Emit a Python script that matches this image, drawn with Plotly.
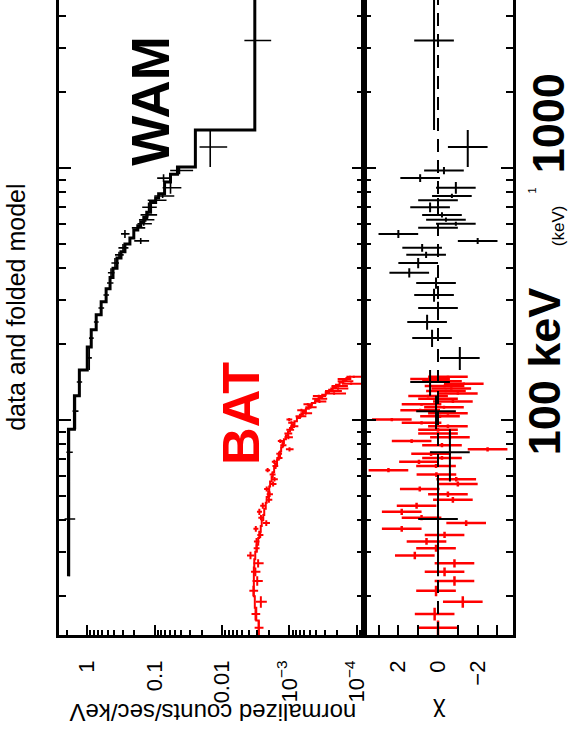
import plotly.graph_objects as go

W, H = 583, 734

# ---------------- WAM (black) ----------------
wam_e_lo = [24, 57, 92, 125, 158, 195, 228, 262, 295, 332, 368, 400, 440, 465, 500, 528, 568, 590, 612, 636,
            668, 730, 760, 790, 880, 945, 1010, 1415]
wam_e_hi = [57, 92, 125, 158, 195, 228, 262, 295, 332, 368, 400, 440, 465, 500, 528, 568, 590, 612, 636, 668,
            730, 760, 790, 880, 945, 1010, 1415, 5000]
wam_model = [1.90, 1.90, 1.55, 1.31, 1.00, 0.873, 0.737, 0.622, 0.525, 0.459, 0.415, 0.362, 0.316, 0.276,
             0.233, 0.204, 0.178, 0.161, 0.145, 0.131, 0.115, 0.0967, 0.0873, 0.0713, 0.0582, 0.0459,
             0.0249, 0.00327]
wam_data = [1.84, 1.84, 1.50, 1.31, 0.935, 0.873, 0.737, 0.622, 0.525, 0.459, 0.444, 0.388, 0.338, 0.295,
            0.161, 0.276, 0.178, 0.145, 0.136, 0.127, 0.123, 0.0967, 0.0762, 0.0582, 0.0738, 0.0429,
            0.0150, 0.00327]
wam_err = [0.33, 0.2, 0.15, 0.12, 0.08, 0.07, 0.06, 0.06, 0.05, 0.05, 0.05, 0.05, 0.05, 0.05, 0.04, 0.04,
           0.04, 0.035, 0.035, 0.035, 0.03, 0.03, 0.025, 0.018, 0.018, 0.016, 0.0066, 0.0014]
wam_chi = [0.0, -0.6, 0.1, 0.4, -1.1, 0.3, 0.55, 0.0, 0.2, 0.1, 1.45, 1.0, 0.6, 0.8, -2.0, 2.0, 0.0, -0.9,
           -0.4, -0.2, 0.4, 0.0, -0.7, -0.9, 0.9, -0.3, -1.5, 0.2]

# ---------------- BAT (red) ----------------
bat_e_lo = [14, 16, 18, 20, 22, 24, 26, 28, 30, 32, 34, 36, 38, 40, 42, 44.5, 47, 49.5, 52, 54.5, 57, 59.5,
            62, 64.5, 67, 69.5, 72, 75, 78, 81, 84, 87, 90, 93, 96, 99, 102, 105, 108, 111, 114, 117, 120,
            123, 126, 129, 132, 135, 138, 141, 144, 147]
bat_e_hi = [16, 18, 20, 22, 24, 26, 28, 30, 32, 34, 36, 38, 40, 42, 44.5, 47, 49.5, 52, 54.5, 57, 59.5, 62,
            64.5, 67, 69.5, 72, 75, 78, 81, 84, 87, 90, 93, 96, 99, 102, 105, 108, 111, 114, 117, 120, 123,
            126, 129, 132, 135, 138, 141, 144, 147, 150]
bat_model = [2.86e-3, 3.11e-3, 3.27e-3, 3.38e-3, 3.44e-3, 3.38e-3, 3.33e-3, 3.22e-3, 3.06e-3, 2.91e-3,
             2.81e-3, 2.67e-3, 2.58e-3, 2.45e-3, 2.37e-3, 2.25e-3, 2.18e-3, 2.07e-3, 2.00e-3, 1.94e-3,
             1.84e-3, 1.78e-3, 1.69e-3, 1.61e-3, 1.53e-3, 1.45e-3, 1.38e-3, 1.33e-3, 1.27e-3, 1.21e-3,
             1.13e-3, 1.05e-3, 9.84e-4, 9.19e-4, 8.44e-4, 7.76e-4, 7.01e-4, 6.33e-4, 5.72e-4, 5.17e-4,
             4.67e-4, 4.15e-4, 3.68e-4, 3.27e-4, 2.90e-4, 2.58e-4, 2.29e-4, 2.04e-4, 1.81e-4, 1.61e-4,
             1.43e-4, 1.27e-4]
bat_data = [2.86e-3, 3.19e-3, 2.66e-3, 3.43e-3, 3.01e-3, 3.21e-3, 2.92e-3, 3.79e-3, 3.09e-3, 3.08e-3,
            2.72e-3, 3.16e-3, 2.21e-3, 2.65e-3, 2.80e-3, 2.49e-3, 2.02e-3, 1.97e-3, 2.18e-3, 1.75e-3,
            1.67e-3, 1.79e-3, 2.11e-3, 1.63e-3, 1.68e-3, 1.42e-3, 1.43e-3, 1.00e-3, 1.24e-3, 1.37e-3,
            1.04e-3, 1.05e-3, 9.84e-4, 8.59e-4, 9.35e-4, 1.01e-3, 6.88e-4, 5.76e-4, 6.65e-4, 4.89e-4,
            5.37e-4, 3.59e-4, 3.68e-4, 3.68e-4, 2.18e-4, 2.32e-4, 1.91e-4, 1.87e-4, 1.22e-4, 1.53e-4,
            1.57e-4, 1.11e-4]
bat_err = [4.3e-4, 4.7e-4, 4.9e-4, 5.1e-4, 5.2e-4, 5.1e-4, 5.0e-4, 4.8e-4, 3.1e-4, 2.9e-4,
           2.8e-4, 2.7e-4, 2.6e-4, 2.5e-4, 2.4e-4, 2.3e-4, 2.2e-4, 2.1e-4, 2.0e-4, 1.9e-4,
           1.8e-4, 1.8e-4, 1.7e-4, 1.6e-4, 1.5e-4, 1.5e-4, 1.4e-4, 1.3e-4, 1.3e-4, 1.2e-4,
           1.5e-4, 1.4e-4, 1.3e-4, 1.2e-4, 1.1e-4, 1.0e-4, 1.26e-4, 1.14e-4, 1.03e-4, 9.3e-5,
           8.4e-5, 7.5e-5, 9.2e-5, 8.2e-5, 7.3e-5, 6.5e-5, 5.7e-5, 5.1e-5, 4.5e-5, 4.0e-5,
           3.6e-5, 3.2e-5]
bat_chi = [0.0, 0.17, -1.25, 0.1, -0.83, -0.33, -0.83, 1.17, 0.1, 0.58,
           -0.33, 1.83, -1.42, 0.83, 1.83, 1.08, -0.75, -0.5, 0.92, -1.0,
           -0.92, 0.08, 2.5, 0.1, 0.96, -0.2, 0.35, -2.5, -0.2, 1.33,
           -0.6, 0.0, 0.0, -0.5, 0.83, 2.33, -0.1, -0.5, 0.9, -0.3,
           0.83, -0.75, 0.0, 0.5, -1.0, -0.4, -0.67, -0.33, -1.3, -0.2,
           0.4, -0.5]

# ---------------- axis labels ----------------
count_tickvals = [1, 0.1, 0.01, 1e-3, 1e-4]
count_ticktext = ["1", "0.1", "0.01", "10<sup>\u22123</sup>", "10<sup>\u22124</sup>"]
chi_tickvals = [2, 0, -2]
chi_ticktext = ["2", "0", "\u22122"]
chi_minor = [3, 1, -1, -3]
energy_major = [100, 1000]

FONT = "Liberation Sans, Arial, Helvetica, sans-serif"


def centers(lo, hi):
    return [(a + b) / 2 for a, b in zip(lo, hi)]


def halfw(lo, hi):
    return [(b - a) / 2 for a, b in zip(lo, hi)]


def steps(lo, hi, vals):
    xs, ys = [], []
    for a, b, v in zip(lo, hi, vals):
        xs += [v, v]
        ys += [a, b]
    return xs, ys


fig = go.Figure()

# counts panel: folded models (histogram steps) and data
mx, my = steps(wam_e_lo, wam_e_hi, wam_model)
fig.add_trace(go.Scatter(x=mx, y=my, mode="lines", line=dict(color="black", width=3),
                         xaxis="x", yaxis="y", hoverinfo="skip"))
bx, by = steps(bat_e_lo, bat_e_hi, bat_model)
fig.add_trace(go.Scatter(x=bx, y=by, mode="lines", line=dict(color="red", width=2),
                         xaxis="x", yaxis="y", hoverinfo="skip"))
fig.add_trace(go.Scatter(
    x=wam_data, y=centers(wam_e_lo, wam_e_hi), mode="markers",
    marker=dict(size=1, color="black"),
    error_x=dict(type="data", array=wam_err, width=0, thickness=1.6, color="black"),
    error_y=dict(type="data", array=halfw(wam_e_lo, wam_e_hi), width=0, thickness=1.6, color="black"),
    xaxis="x", yaxis="y"))
fig.add_trace(go.Scatter(
    x=bat_data, y=centers(bat_e_lo, bat_e_hi), mode="markers",
    marker=dict(size=1, color="red"),
    error_x=dict(type="data", array=bat_err, width=0, thickness=2, color="red"),
    error_y=dict(type="data", array=halfw(bat_e_lo, bat_e_hi), width=0, thickness=2, color="red"),
    xaxis="x", yaxis="y"))

# residual panel
fig.add_trace(go.Scatter(
    x=bat_chi, y=centers(bat_e_lo, bat_e_hi), mode="markers",
    marker=dict(size=1, color="red"),
    error_x=dict(type="constant", value=1, width=0, thickness=2.5, color="red"),
    error_y=dict(type="data", array=halfw(bat_e_lo, bat_e_hi), width=0, thickness=2.5, color="red"),
    xaxis="x2", yaxis="y2"))
fig.add_trace(go.Scatter(
    x=wam_chi, y=centers(wam_e_lo, wam_e_hi), mode="markers",
    marker=dict(size=1, color="black"),
    error_x=dict(type="constant", value=1, width=0, thickness=2, color="black"),
    error_y=dict(type="data", array=halfw(wam_e_lo, wam_e_hi), width=0, thickness=2, color="black"),
    xaxis="x2", yaxis="y2"))

# geometry (pixels -> paper)
x_left, x_div, x_right = 60, 367, 517
y_bottom = 635
dom_y = [(H - y_bottom) / H, 1.0]

count_minor = [m * 10 ** k for k in range(-5, 1) for m in range(2, 10)] + [2]
energy_minor = [m * 10 ** k for k in range(1, 4) for m in range(2, 10)]

tickfont = dict(family=FONT, size=22, color="black")

fig.update_layout(
    width=W, height=H,
    margin=dict(l=0, r=0, t=0, b=0),
    paper_bgcolor="white", plot_bgcolor="white",
    showlegend=False,
    xaxis=dict(domain=[x_left / W, x_div / W], type="log", range=[0.412, -4.103],
               anchor="y", showgrid=False, zeroline=False,
               showline=True, linecolor="black", linewidth=2.5, mirror=False,
               ticks="inside", ticklen=10, tickwidth=2, tickcolor="black",
               tickmode="array", tickvals=count_tickvals, ticktext=count_ticktext,
               tickangle=-90, tickfont=tickfont, ticklabelstandoff=14,
               minor=dict(tickmode="array", tickvals=count_minor, ticks="inside",
                          ticklen=5, tickwidth=1.5, tickcolor="black", showgrid=False)),
    xaxis2=dict(domain=[x_div / W, x_right / W], range=[3.74, -3.76],
                anchor="y2", showgrid=False, zeroline=False,
                showline=True, linecolor="black", linewidth=2.5, mirror=False,
                ticks="inside", ticklen=10, tickwidth=2, tickcolor="black",
                tickmode="array", tickvals=chi_tickvals, ticktext=chi_ticktext,
                tickangle=-90, tickfont=tickfont, ticklabelstandoff=14,
                minor=dict(tickmode="array", tickvals=chi_minor, ticks="inside",
                           ticklen=10, tickwidth=2, tickcolor="black", showgrid=False)),
    yaxis=dict(domain=dom_y, type="log", range=[1.147, 3.667], anchor="x",
               showgrid=False, zeroline=False,
               showline=True, linecolor="black", linewidth=2.5, mirror="allticks",
               ticks="inside", ticklen=12, tickwidth=2, tickcolor="black",
               tickmode="array", tickvals=energy_major, showticklabels=False,
               minor=dict(tickmode="array", tickvals=energy_minor, ticks="inside",
                          ticklen=7, tickwidth=2, tickcolor="black", showgrid=False)),
    yaxis2=dict(domain=dom_y, type="log", range=[1.147, 3.667], anchor="x2", matches="y",
                showgrid=False, zeroline=False,
                showline=True, linecolor="black", linewidth=2.5, mirror="allticks",
                ticks="inside", ticklen=12, tickwidth=2, tickcolor="black",
                tickmode="array", tickvals=energy_major, showticklabels=False,
                minor=dict(tickmode="array", tickvals=energy_minor, ticks="inside",
                           ticklen=7, tickwidth=2, tickcolor="black", showgrid=False)),
)

# dashed zero line in residual panel
fig.add_shape(type="line", xref="x2", yref="y2 domain", x0=0, x1=0, y0=0, y1=1,
              line=dict(color="black", width=2, dash="13px,8px"), layer="above")


def ann(text, px, py, size, angle, color="black"):
    fig.add_annotation(text=text, x=px / W, y=1 - py / H, xref="paper", yref="paper",
                       showarrow=False, textangle=angle, xanchor="center", yanchor="middle",
                       font=dict(family=FONT, size=size, color=color))


ann("data and folded model", 16, 307, 25, -90)
ann("<b>WAM</b>", 152, 101, 53, -90)
ann("<b>BAT</b>", 243, 413, 52, -90, color="red")
ann("<b>100 keV</b>", 549, 371, 45, -90)
ann("<b>1000</b>", 554, 123, 45, -90)
ann("(keV)", 563, 226, 17, -90)
ann("1", 537, 190, 11, -90)
ann("normalized counts/sec/keV", 215, 713, 24, 180)
ann("\u03c7", 443, 713, 24, 180)

fig.write_html("out.html")
